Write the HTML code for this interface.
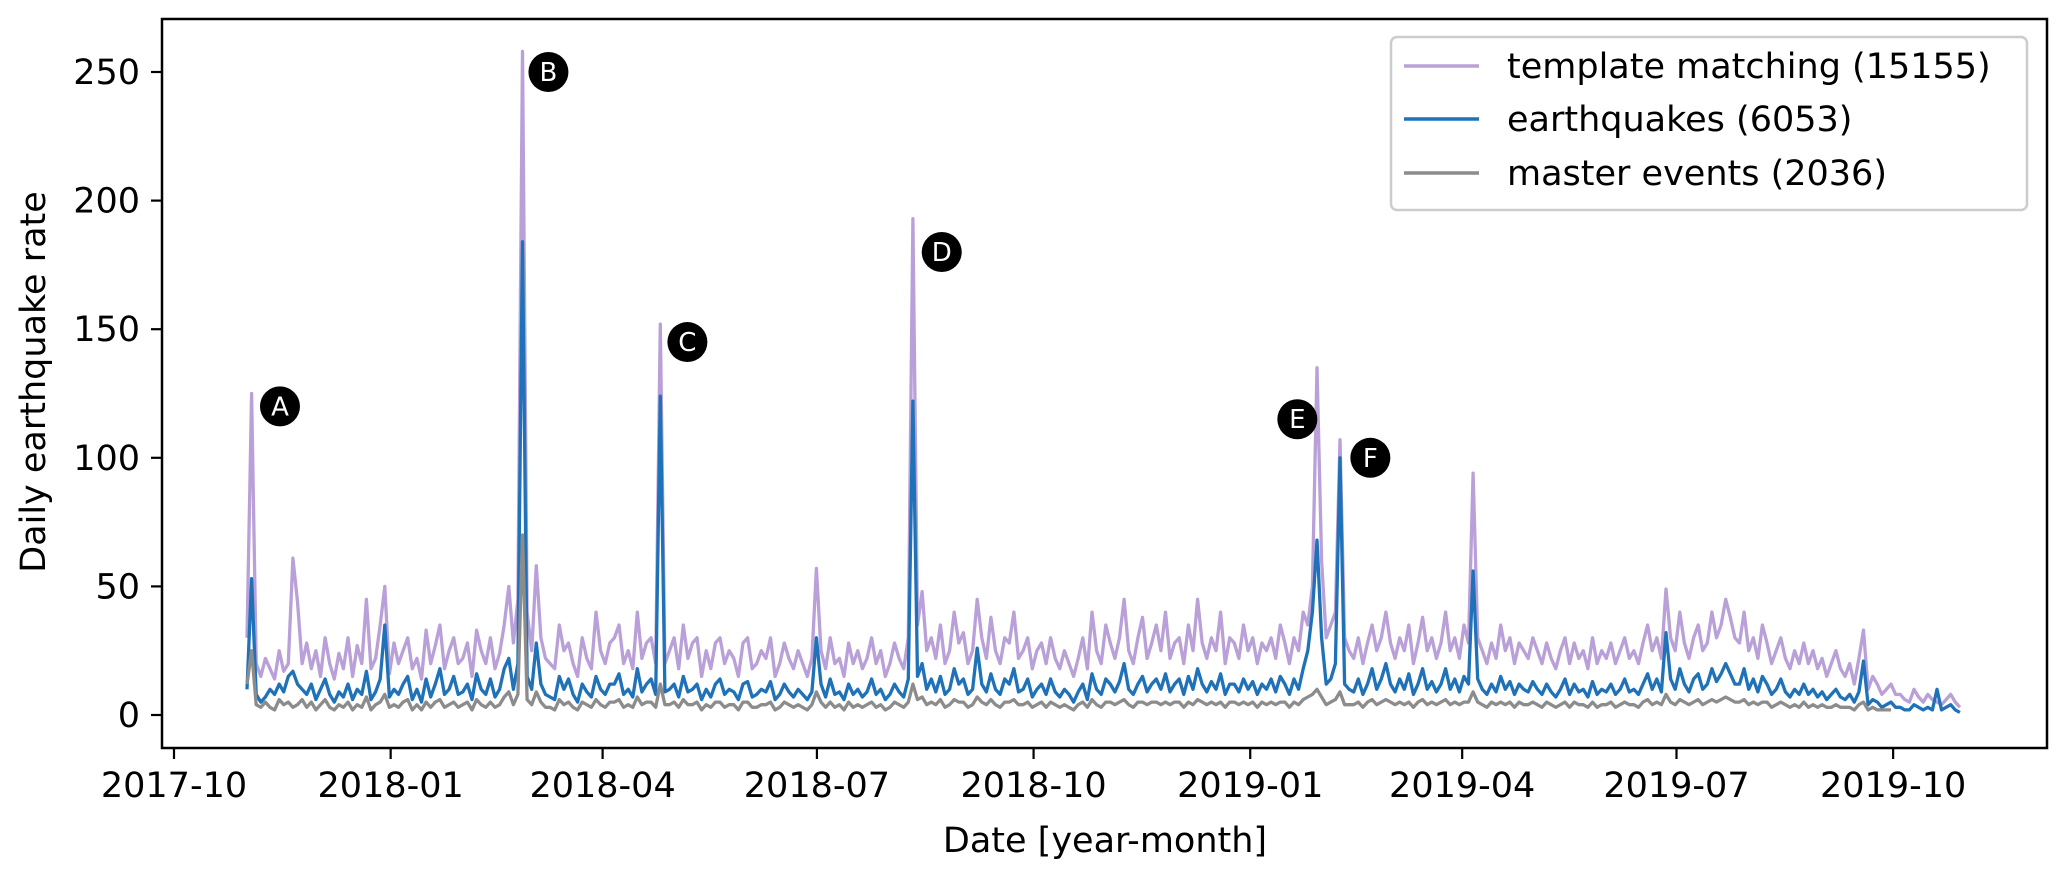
<!DOCTYPE html>
<html><head><meta charset="utf-8"><style>
html,body{margin:0;padding:0;background:#fff;}
svg{display:block;font-family:"DejaVu Sans","Liberation Sans",sans-serif;}
</style></head><body>
<svg id="chart" width="2067" height="877" viewBox="0 0 2067 877" xmlns="http://www.w3.org/2000/svg">
<rect x="0" y="0" width="2067" height="877" fill="#fff"/>
<g id="series"></g>
<g id="annots"></g>
<rect x="162" y="19" width="1885" height="729" fill="none" stroke="#000" stroke-width="2.5"/>
<g id="axes"></g>
<text transform="translate(45,382) rotate(-90)" text-anchor="middle" font-size="35" fill="#000">Daily earthquake rate</text>
<text x="1105" y="852" text-anchor="middle" font-size="35" fill="#000">Date [year-month]</text>
<g>
<rect x="1391" y="37" width="636" height="173" rx="6" fill="#fff" stroke="#ccc" stroke-width="2.5"/>
<line x1="1404" y1="66" x2="1479" y2="66" stroke="#b9a0d8" stroke-width="3.5"/>
<text x="1507" y="78" font-size="35">template matching (15155)</text>
<line x1="1404" y1="119" x2="1479" y2="119" stroke="#1f72b8" stroke-width="3.5"/>
<text x="1507" y="131" font-size="35">earthquakes (6053)</text>
<line x1="1404" y1="173" x2="1479" y2="173" stroke="#8c8c8c" stroke-width="3.5"/>
<text x="1507" y="185" font-size="35">master events (2036)</text>
</g>
</svg>
<script>
const startDay = 31; // days since 2017-10-01
const stepDays = 1.95;
const yTicks = [0,50,100,150,200,250];
const xTickLabels = ["2017-10","2018-01","2018-04","2018-07","2018-10","2019-01","2019-04","2019-07","2019-10"];
const xTickDays = [0,92,182,273,365,457,547,638,730];
const template = [30,125,20,15,22,18,14,25,17,20,61,44,20,28,18,25,15,30,20,14,
24,18,30,15,27,20,45,18,22,35,50,16,28,20,25,30,18,22,14,33,
20,27,35,18,25,30,20,22,28,15,33,25,20,30,18,24,35,50,28,45,
258,40,25,58,30,22,20,18,35,25,28,20,15,30,22,18,40,25,20,28,
30,35,20,25,18,40,22,28,30,20,152,20,25,30,18,35,22,28,30,15,
25,18,28,30,20,25,22,15,28,30,18,20,25,22,30,15,20,28,22,18,
25,20,15,22,57,25,18,30,20,22,15,28,20,25,18,22,30,20,25,15,
20,28,22,18,30,193,35,48,25,30,22,35,20,25,40,28,32,20,25,45,
30,22,38,25,20,30,28,40,22,25,30,18,25,28,20,30,22,18,25,20,
15,22,30,18,40,25,20,35,28,22,30,45,25,20,30,38,22,28,35,25,
40,22,28,30,20,35,25,45,28,22,30,25,40,20,30,28,22,35,25,30,
20,28,25,30,22,35,28,20,30,25,40,35,50,135,60,30,35,40,107,30,
25,22,30,20,28,35,25,30,40,28,22,30,25,35,20,28,38,25,30,22,
28,40,25,30,22,35,28,94,30,25,20,28,22,35,25,30,20,28,25,22,
30,25,20,28,22,18,25,30,20,28,22,25,18,30,20,25,22,28,20,25,
30,22,25,20,28,35,25,30,22,49,30,25,40,28,22,30,35,25,28,40,
30,35,45,38,30,28,40,25,30,22,35,28,20,25,30,22,18,25,20,28,
20,25,18,22,15,20,25,18,15,20,12,22,33,10,15,12,8,10,12,8,
8,6,5,10,7,5,8,6,5,4,6,8,5,3];
const earthquakes = [10,53,8,5,7,10,8,12,9,15,17,12,10,8,12,6,10,14,8,5,
9,7,12,6,10,8,17,6,9,14,35,7,10,8,12,15,6,10,5,14,
7,12,18,8,10,15,8,9,12,6,16,10,8,14,7,10,18,22,10,20,
184,15,10,28,12,8,7,6,15,10,14,8,5,12,9,7,15,10,8,12,
12,16,8,10,7,18,9,12,14,8,124,9,10,12,7,15,9,10,12,6,
10,7,12,14,8,10,9,6,12,13,7,8,10,9,13,6,8,12,9,7,
10,8,6,9,30,12,7,14,8,9,6,12,8,10,7,9,14,8,10,6,
8,12,9,7,14,122,15,20,10,14,9,15,8,10,18,12,14,8,10,26,
12,9,16,10,8,14,12,18,9,10,14,7,10,12,8,14,9,7,10,8,
5,9,12,6,16,10,8,14,12,9,13,20,10,8,12,15,9,12,14,10,
16,9,12,14,8,15,10,18,12,9,13,10,16,8,12,12,9,14,10,13,
8,12,10,14,9,15,12,8,14,10,18,25,40,68,30,12,14,20,100,12,
10,9,14,8,12,18,10,14,20,12,9,14,10,16,8,12,18,10,13,9,
12,18,10,14,9,15,12,56,14,10,8,12,9,15,10,13,8,12,10,9,
13,10,8,12,9,7,10,14,8,12,9,10,7,13,8,10,9,12,8,10,
14,9,10,8,12,16,10,14,9,32,14,10,18,12,9,14,16,10,12,18,
13,16,20,16,12,12,18,10,14,9,15,12,8,10,14,9,7,10,8,12,
8,10,7,9,6,8,10,7,6,8,5,9,21,4,6,5,3,4,5,3,
3,2,2,4,3,2,3,2,10,2,3,4,2,1];
const master = [12,25,4,3,5,3,2,6,4,5,3,4,6,3,5,2,4,6,3,2,
4,3,5,2,4,3,7,2,4,5,8,3,4,3,5,6,2,4,2,5,
3,5,6,3,4,5,3,4,5,2,6,4,3,5,3,4,7,9,4,8,
70,6,4,9,5,3,3,2,6,4,5,3,2,5,4,3,6,4,3,5,
5,6,3,4,3,7,4,5,5,3,12,4,4,5,3,6,4,4,5,2,
4,3,5,5,3,4,4,2,5,5,3,3,4,4,5,2,3,5,4,3,
4,3,2,4,9,5,3,5,3,4,2,5,3,4,3,4,5,3,4,2,
3,5,4,3,5,12,6,7,4,5,4,6,3,4,6,5,5,3,4,7,
5,4,6,4,3,5,5,6,4,4,5,3,4,5,3,5,4,3,4,3,
2,4,5,3,6,4,3,5,5,4,5,6,4,3,5,5,4,5,5,4,
5,4,5,5,3,5,4,6,5,4,5,4,5,3,5,5,4,5,4,5,
3,5,4,5,4,5,5,3,5,4,6,7,8,10,7,4,5,6,9,4,
4,4,5,3,5,6,4,5,6,5,4,5,4,5,3,5,6,4,5,4,
5,6,4,5,4,5,5,9,5,4,3,5,4,5,4,5,3,5,4,4,
5,4,3,5,4,3,4,5,3,5,4,4,3,5,3,4,4,5,3,4,
5,4,4,3,5,6,4,5,4,8,5,4,6,5,4,5,6,4,5,6,
5,6,7,6,5,5,6,4,5,4,5,5,3,4,5,4,3,4,3,5,
3,4,3,4,3,3,4,3,3,3,2,4,5,2,3,2,2,2,2];
const annLabels = ["A","B","C","D","E","F"];
const annDays = [45,159,218,326,477,508];
const annValues = [120,250,145,180,115,100];

const NS="http://www.w3.org/2000/svg";
const xOfDay = d => 174 + d*2.355;
const yOf = v => 715 - v*2.572;
const mk = (tag, attrs, parent) => { const e=document.createElementNS(NS,tag); for(const k in attrs) e.setAttribute(k,attrs[k]); parent.appendChild(e); return e; };
const seriesG=document.getElementById('series'), axesG=document.getElementById('axes'), annG=document.getElementById('annots');

function drawLine(vals,color,name){
  const pts = vals.map((v,i)=>xOfDay(startDay+i*stepDays).toFixed(1)+","+yOf(v).toFixed(1)).join(" ");
  const p = mk('polyline',{points:pts,fill:'none',stroke:color,'stroke-width':3.3,'stroke-linejoin':'round'},seriesG);
  
  
}
drawLine(template,'#b9a0d8','template-matching-line');
drawLine(earthquakes,'#1f72b8','earthquakes-line');
drawLine(master,'#8c8c8c','master-events-line');

yTicks.forEach(v=>{
  const y=yOf(v);
  const t=mk('line',{x1:151,x2:162,y1:y,y2:y,stroke:'#000','stroke-width':2.2},axesG);
  
  
  const l=mk('text',{x:140,y:y+12,'text-anchor':'end','font-size':35},axesG);
  
  
  l.textContent=v;
});
xTickDays.forEach((d,i)=>{
  const x=xOfDay(d);
  const t=mk('line',{x1:x,x2:x,y1:748,y2:759,stroke:'#000','stroke-width':2.2},axesG);
  
  
  const l=mk('text',{x:x,y:797,'text-anchor':'middle','font-size':35},axesG);
  
  
  l.textContent=xTickLabels[i];
});
annLabels.forEach((lab,i)=>{
  const cx=xOfDay(annDays[i]), cy=yOf(annValues[i]);
  const c=mk('circle',{cx:cx,cy:cy,r:20,fill:'#000'},annG);
  
  
  const t=mk('text',{x:cx,y:cy+9,'text-anchor':'middle','font-size':26,fill:'#fff'},annG);
  
  
  t.textContent=lab;
});
</script>
</body></html>
